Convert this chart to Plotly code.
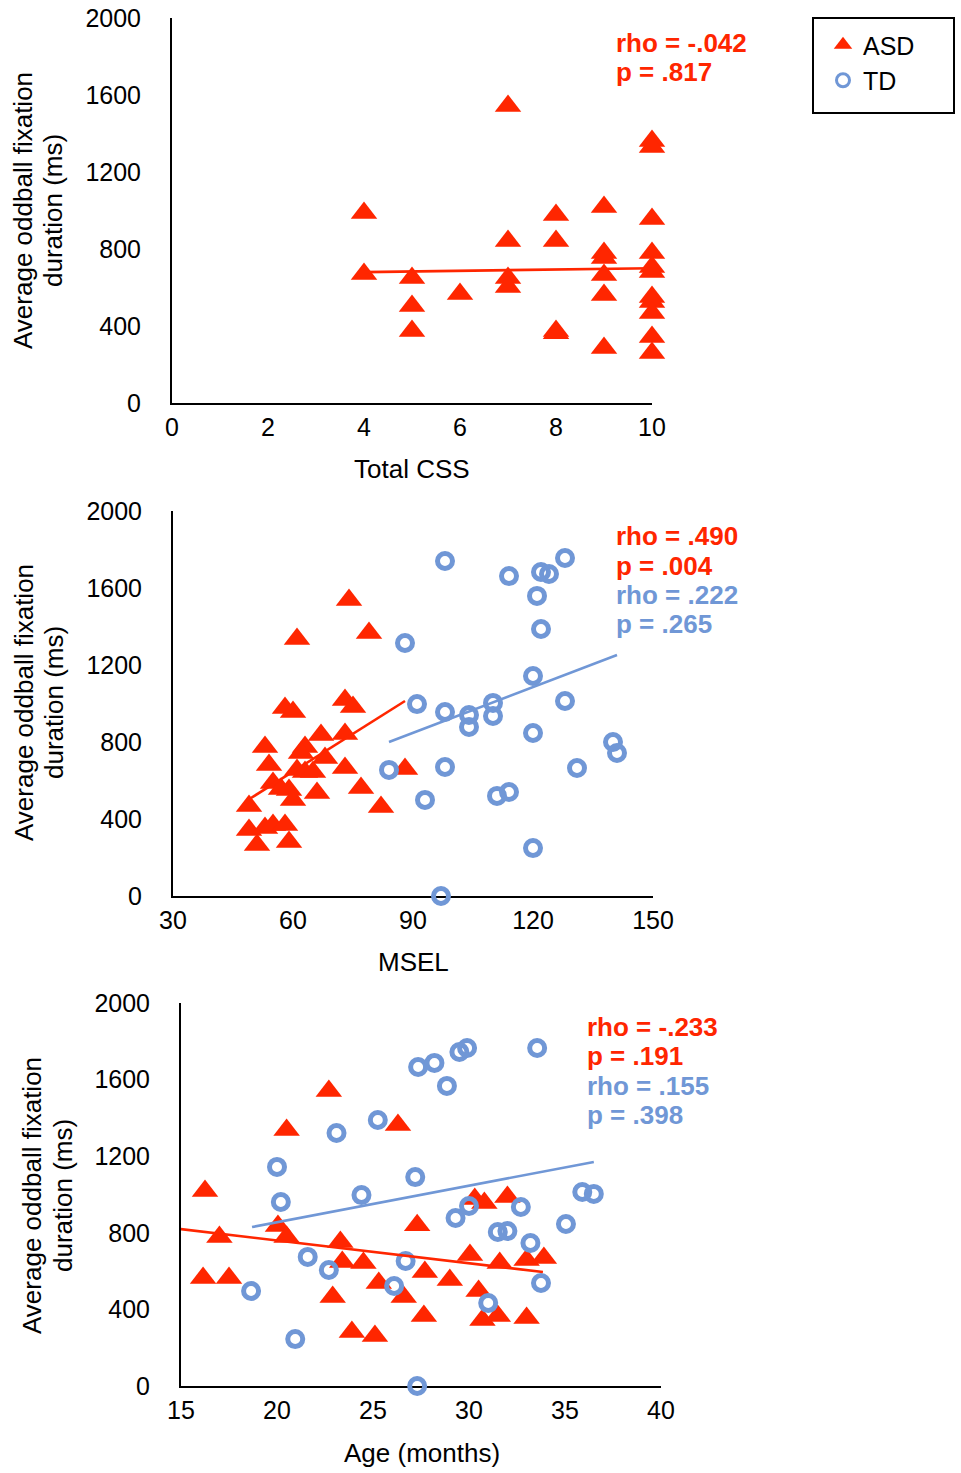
import plotly.graph_objects as go

W, H = 961, 1473
RED = '#FF2600'
BLUE = '#7097D6'
FONT = 'Liberation Sans, Arial, sans-serif'

# ---------------- data ----------------
# Panel 1: Total CSS (ASD only)
css_asd_x = [4, 4, 5, 5, 5, 6, 7, 7, 7, 7, 8, 8, 8, 8, 9, 9, 9, 9, 9, 9,
             10, 10, 10, 10, 10, 10, 10, 10, 10, 10, 10]
css_asd_y = [987, 670, 649, 504, 374, 566, 1543, 842, 649, 603, 977, 842, 374, 362,
             1018, 779, 753, 665, 561, 286,
             1361, 1330, 956, 779, 706, 680, 551, 525, 467, 343, 260]
css_fit_x = [4, 10]
css_fit_y = [680, 700]

# Panel 2: MSEL
msel_asd_x = [74, 61, 79, 58, 60, 73, 75, 53, 67, 73, 63, 62, 54, 68, 61, 63, 65, 73, 88,
              55, 57, 59, 60, 66, 77, 82, 49, 49, 53, 55, 58, 51, 59]
msel_asd_y = [1538, 1335, 1366, 977, 956, 1018, 982, 774, 836, 841, 774, 743, 680, 717,
              654, 644, 644, 665, 660, 587, 556, 551, 499, 535, 561, 462, 468, 343, 353,
              369, 369, 265, 281]
msel_td_x = [98, 114, 122, 124, 128, 121, 122, 88, 120, 91, 98, 104, 104, 110, 110, 128,
             120, 140, 141, 84, 98, 131, 93, 111, 114, 120, 97]
msel_td_y = [1740, 1662, 1683, 1673, 1756, 1559, 1387, 1314, 1143, 997, 956, 940, 878,
             1003, 935, 1013, 847, 800, 743, 655, 670, 665, 499, 520, 540, 249, 0]
msel_asd_fit_x = [49.5, 88]
msel_asd_fit_y = [509, 1013]
msel_td_fit_x = [84, 141]
msel_td_fit_y = [800, 1252]

# Panel 3: Age (months)
age_asd_x = [16.25, 22.7, 20.5, 26.3, 17.0, 20.05, 20.5, 23.3, 23.4, 24.5, 16.15, 17.5,
             22.9, 25.3, 26.6, 23.9, 25.1, 27.3, 27.7, 29.0, 27.65, 30.05, 30.3, 30.8,
             32.0, 31.6, 30.5, 30.7, 31.5, 33.0, 33.0, 33.9]
age_asd_y = [1018, 1540, 1337, 1363, 778, 835, 778, 752, 648, 642, 564, 564, 465, 538,
             465, 282, 261, 840, 595, 553, 366, 684, 976, 956, 987, 642, 496, 345, 366,
             355, 658, 668]
age_td_x = [27.35, 25.25, 23.1, 20.0, 20.2, 24.4, 27.2, 21.6, 22.7, 18.65, 20.95, 26.7,
            26.1, 27.3, 28.2, 28.85, 29.5, 29.9, 33.55, 29.3, 30.0, 32.7, 31.5, 32.0,
            33.2, 35.05, 35.9, 36.5, 33.75, 31.0]
age_td_y = [1666, 1389, 1321, 1144, 961, 997, 1091, 674, 606, 496, 245, 653, 522, 0,
            1687, 1567, 1744, 1765, 1765, 877, 940, 935, 804, 809, 747, 846, 1013, 1003,
            538, 433]
age_asd_fit_x = [14.75, 33.85]
age_asd_fit_y = [822, 595]
age_td_fit_x = [18.7, 36.5]
age_td_fit_y = [830, 1170]

# text
css_stats = ['rho = -.042', 'p = .817']
msel_stats = ['rho = .490', 'p = .004', 'rho = .222', 'p = .265']
age_stats = ['rho = -.233', 'p = .191', 'rho = .155', 'p = .398']
x_titles = ['Total CSS', 'MSEL', 'Age (months)']
y_title_lines = ['Average oddball fixation', 'duration (ms)']
y_ticks = [0, 400, 800, 1200, 1600, 2000]
group_names = ['ASD', 'TD']


def px(x):
    return x / W


def py(y):
    return 1 - y / H


tri = dict(symbol='triangle-up', size=23, color=RED)
circ = dict(symbol='circle-open', size=15, color=BLUE, line=dict(width=5, color=BLUE))

fig = go.Figure()

# legend-only traces
fig.add_trace(go.Scatter(x=[None], y=[None], mode='markers', name=group_names[0],
                         marker=dict(symbol='triangle-up', size=16, color=RED)))
fig.add_trace(go.Scatter(x=[None], y=[None], mode='markers', name=group_names[1],
                         marker=dict(symbol='circle-open', size=13, color=BLUE,
                                     line=dict(width=3, color=BLUE))))


def add_points(xs, ys, marker, ax):
    fig.add_trace(go.Scatter(x=xs, y=ys, mode='markers', marker=marker, showlegend=False,
                             cliponaxis=False, xaxis='x' + ax, yaxis='y' + ax, hoverinfo='x+y'))


def add_fit(xs, ys, color, ax):
    fig.add_trace(go.Scatter(x=xs, y=ys, mode='lines', line=dict(color=color, width=2.6),
                             showlegend=False, cliponaxis=False,
                             xaxis='x' + ax, yaxis='y' + ax, hoverinfo='skip'))


add_points(css_asd_x, css_asd_y, tri, '')
add_fit(css_fit_x, css_fit_y, RED, '')

add_points(msel_asd_x, msel_asd_y, tri, '2')
add_points(msel_td_x, msel_td_y, circ, '2')
add_fit(msel_asd_fit_x, msel_asd_fit_y, RED, '2')
add_fit(msel_td_fit_x, msel_td_fit_y, BLUE, '2')

add_points(age_asd_x, age_asd_y, tri, '3')
add_points(age_td_x, age_td_y, circ, '3')
add_fit(age_asd_fit_x, age_asd_fit_y, RED, '3')
add_fit(age_td_fit_x, age_td_fit_y, BLUE, '3')

tickfont = dict(family=FONT, size=25, color='black')
axis_common = dict(showgrid=False, zeroline=False, showline=True, linecolor='black',
                   linewidth=2, ticks='', tickfont=tickfont, layer='below traces',
                   fixedrange=True, automargin=False)

panels = [
    dict(x0=172, x1=652, y0=18, y1=403, xr=[0, 10], dt=2),
    dict(x0=173, x1=653, y0=511, y1=896, xr=[30, 150], dt=30),
    dict(x0=181, x1=661, y0=1003, y1=1386, xr=[15, 40], dt=5),
]

layout_axes = {}
for i, p in enumerate(panels):
    sfx = '' if i == 0 else str(i + 1)
    layout_axes['xaxis' + sfx] = dict(axis_common, domain=[px(p['x0']), px(p['x1'])],
                                      range=p['xr'], dtick=p['dt'], tick0=p['xr'][0],
                                      anchor='y' + sfx, ticklabelstandoff=1)
    layout_axes['yaxis' + sfx] = dict(axis_common, domain=[py(p['y1']), py(p['y0'])],
                                      range=[0, 2000], tickvals=y_ticks,
                                      anchor='x' + sfx, ticklabelstandoff=24)

annotations = []


def add_text(text, x, y, size=26, color='black', bold=False, angle=0, xanchor='center'):
    annotations.append(dict(text=('<b>%s</b>' % text) if bold else text,
                            x=px(x), y=py(y), xref='paper', yref='paper',
                            showarrow=False, textangle=angle, xanchor=xanchor,
                            yanchor='middle',
                            font=dict(family=FONT, size=size, color=color)))


for t, c, yy in zip(css_stats, [RED, RED], [43, 72]):
    add_text(t, 614, yy, color=c, bold=True, xanchor='left')
for t, c, yy in zip(msel_stats, [RED, RED, BLUE, BLUE], [536, 566, 595, 624]):
    add_text(t, 614, yy, color=c, bold=True, xanchor='left')
for t, c, yy in zip(age_stats, [RED, RED, BLUE, BLUE], [1027, 1056, 1086, 1115]):
    add_text(t, 585, yy, color=c, bold=True, xanchor='left')

for t, (xx, yy) in zip(x_titles, [(412, 469), (413, 962), (422, 1453)]):
    add_text(t, xx, yy)

for (x1, x2, yc) in [(23, 53, 211), (24, 54, 703), (32, 63, 1196)]:
    add_text(y_title_lines[0], x1, yc, angle=-90)
    add_text(y_title_lines[1], x2, yc, angle=-90)

fig.update_layout(
    template='none',
    width=W, height=H,
    margin=dict(l=0, r=0, t=0, b=0, pad=0, autoexpand=False),
    paper_bgcolor='white', plot_bgcolor='white',
    font=dict(family=FONT, size=25, color='black'),
    annotations=annotations,
    shapes=[dict(type='rect', xref='paper', yref='paper',
                 x0=px(813), x1=px(954), y0=py(113), y1=py(18),
                 line=dict(color='black', width=2), fillcolor='rgba(0,0,0,0)')],
    legend=dict(x=px(823), y=py(22), xanchor='left', yanchor='top',
                bgcolor='rgba(0,0,0,0)', borderwidth=0,
                font=dict(family=FONT, size=25, color='black'),
                tracegroupgap=0),
    **layout_axes,
)

fig.write_html('out.html', post_script="document.body.style.margin='0';")
